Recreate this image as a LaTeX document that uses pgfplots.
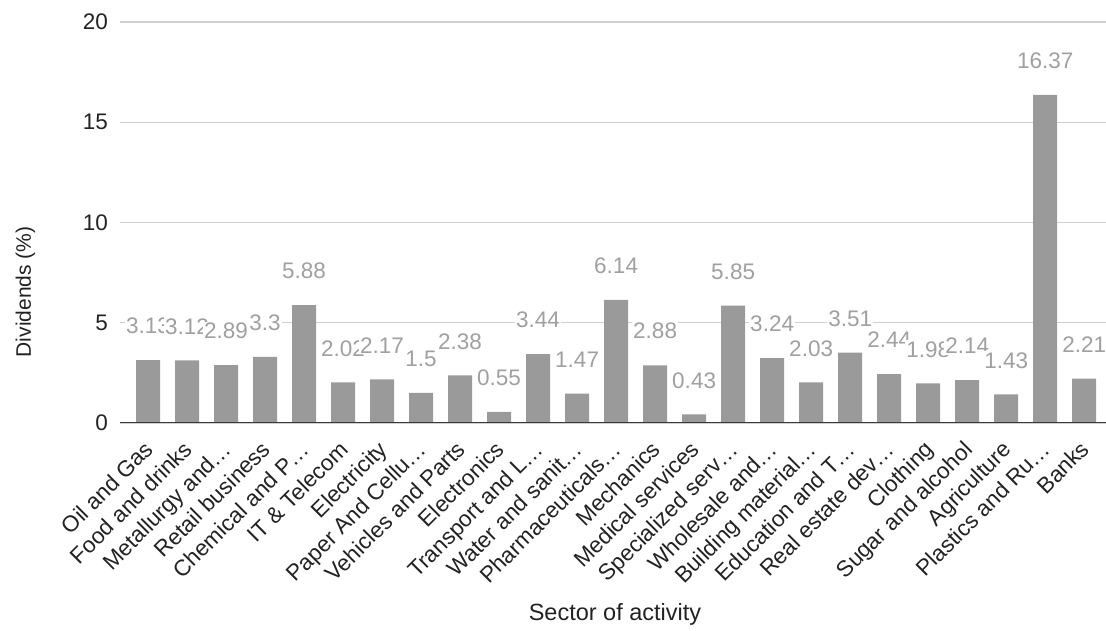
\documentclass[border=0pt]{standalone}
\usepackage{pgfplots}
\pgfplotsset{compat=1.18}
\usepackage{fontspec}
\setmainfont{Liberation Sans}

\definecolor{barfill}{HTML}{9A9A9A}
\definecolor{lblgray}{HTML}{A0A0A0}
\definecolor{gridgray}{HTML}{CFCFCF}
\definecolor{basegray}{HTML}{3A3A3A}
\definecolor{textgray}{HTML}{222222}

\pgfplotstableread{
idx value
0  3.13
1  3.12
2  2.89
3  3.3
4  5.88
5  2.02
6  2.17
7  1.5
8  2.38
9  0.55
10 3.44
11 1.47
12 6.14
13 2.88
14 0.43
15 5.85
16 3.24
17 2.03
18 3.51
19 2.44
20 1.98
21 2.14
22 1.43
23 16.37
24 2.21
}\dividends

\begin{document}
\begin{tikzpicture}
\begin{axis}[
  at={(120pt,208pt)}, anchor=south west,
  width=986pt, height=401pt, scale only axis,
  ybar, bar width=24pt,
  ymin=0, ymax=20, ytick={0,5,10,15,20},
  xmin=-0.72, xmax=24.56,
  xtick={0,...,24},
  xticklabels={Oil and Gas, Food and drinks, Metallurgy and…, Retail business,
    Chemical and P…, IT \& Telecom, Electricity, Paper And Cellu…,
    Vehicles and Parts, Electronics, Transport and L…, Water and sanit…,
    Pharmaceuticals…, Mechanics, Medical services, Specialized serv…,
    Wholesale and…, Building material…, Education and T…, Real estate dev…,
    Clothing, Sugar and alcohol, Agriculture, Plastics and Ru…, Banks},
  /pgf/number format/assume math mode=true,
  major tick length=0pt,
  axis line style={draw=none},
  ymajorgrids, grid style={gridgray, line width=1.2pt},
  tick label style={font=\fontsize{22.5}{26}\selectfont, text=textgray},
  yticklabel style={anchor=east, inner sep=0pt, xshift=-12pt},
  xticklabel style={rotate=45, anchor=north east, inner sep=0pt, yshift=-8pt, xshift=-15pt},
  ylabel={Dividends (\%)},
  ylabel style={at={(axis description cs:-0.096,0.327)}, anchor=center,
    font=\fontsize{21}{25}\selectfont, text=textgray},
  xlabel={Sector of activity},
  xlabel style={at={(axis description cs:0.502,-0.477)}, anchor=center,
    font=\fontsize{23.5}{27}\selectfont, text=textgray},
  nodes near coords,
  every node near coord/.append style={font=\fontsize{22.5}{26}\selectfont,
    text=lblgray, fill=white, inner sep=1pt, anchor=center, yshift=34pt},
]
\addplot[fill=barfill, draw=none] table[x=idx, y=value] {\dividends};
\draw[basegray, line width=1.8pt] (rel axis cs:0,0) -- (rel axis cs:1,0);
\end{axis}
\pgfresetboundingbox
\useasboundingbox (0,0) rectangle (1106pt,631pt);
\end{tikzpicture}
\end{document}
